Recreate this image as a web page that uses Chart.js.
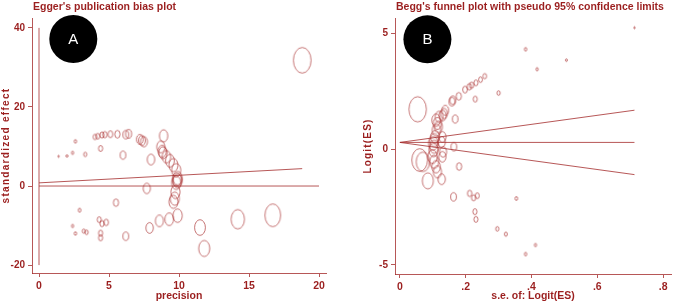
<!DOCTYPE html>
<html><head><meta charset="utf-8">
<script src="https://cdn.jsdelivr.net/npm/chart.js@4"></script>
<style>
html,body{margin:0;padding:0;background:#fff;width:676px;height:303px;overflow:hidden}
.box{position:absolute;top:0;width:338px;height:303px}
#b1{left:0}
#b2{left:338px}
</style></head><body>
<div class="box" id="b1"><canvas id="c1" width="338" height="303"></canvas></div>
<div class="box" id="b2"><canvas id="c2" width="338" height="303"></canvas></div>
<script>
// ---------- Panel A: Egger's publication bias plot ----------
const eggerPrecision = [18.8,16.7,14.2,11.8,11.5,1.4,2.0,2.4,2.6,3.3,4.4,4.0,4.2,4.5,4.7,5.1,5.6,6.2,6.4,7.2,7.35,7.5,8.9,6.0,8.0,8.7,8.8,8.85,9.1,9.35,9.6,9.8,9.85,9.9,9.8,9.9,9.75,9.7,9.6,7.7,5.5,2.9,2.4,2.6,3.2,3.4,4.3,4.5,4.8,4.4,4.4,6.2,7.9,8.6,9.3,9.9];
const eggerStdEffect = [31.8,-7.4,-8.4,-15.8,-10.5,7.5,7.6,8.4,11.3,8.0,9.5,12.4,12.6,12.9,13.0,13.1,13.1,13.0,13.2,11.8,11.5,11.2,12.7,7.8,6.7,9.9,8.8,8.4,7.4,6.4,5.3,4.0,1.6,1.3,0.8,2.0,-1.5,-3.2,-4.0,-0.6,-4.2,-6.1,-10.1,-12.0,-11.4,-11.7,-8.5,-9.5,-9.2,-11.9,-13.1,-12.7,-10.6,-8.8,-8.4,-7.5];
const eggerRegX = [0, 18.8];
const eggerRegY = [0.8, 4.4];
const eggerZeroX = [0, 20];
const eggerInterceptAxisY = [-20, 40];
const eggerXTicks = [0, 5, 10, 15, 20];
const eggerYTicks = [-20, 0, 20, 40];

// ---------- Panel B: Begg's funnel plot ----------
const beggSE = [0.713,0.382,0.417,0.506,0.30,0.229,0.258,0.245,0.231,0.218,0.211,0.198,0.179,0.161,0.158,0.054,0.168,0.138,0.134,0.13,0.119,0.114,0.117,0.111,0.107,0.104,0.101,0.104,0.102,0.129,0.127,0.131,0.129,0.099,0.104,0.11,0.114,0.06,0.07,0.085,0.127,0.18,0.163,0.212,0.224,0.235,0.228,0.231,0.296,0.322,0.354,0.382,0.412,0.164,0.11];
const beggLogit = [5.24,4.31,3.45,3.84,2.42,2.16,3.15,3.0,2.86,2.76,2.69,2.57,2.28,2.11,2.05,1.72,1.3,1.68,1.54,1.45,1.39,1.11,0.96,0.82,0.53,0.39,0.25,0.10,-0.04,0.53,0.31,-0.12,-0.33,-0.33,-0.55,-0.76,-0.98,-0.47,-0.55,-1.37,-1.3,-0.75,-2.06,-1.91,-2.1,-2.01,-2.7,-3.03,-3.44,-3.67,-2.13,-4.53,-4.14,0.1,1.25];
const beggLimitX = [0, 0.713];
const beggPooledY = [0.29, 0.29];
const beggUpperY = [0.29, 1.68];
const beggLowerY = [0.29, -1.10];
const beggXTicks = [0, 0.2, 0.4, 0.6, 0.8];
const beggXTickLabels = ['0', '.2', '.4', '.6', '.8'];
const beggYTicks = [-5, 0, 5];

// ---------- styling ----------
const TEXT = '#9b1f1f';
const LINE = 'rgba(165,45,45,0.8)';
const NARROW = '"Liberation Sans Narrow", "Arial Narrow", "Liberation Sans", Arial, sans-serif';
const SANS = '"Liberation Sans", Arial, sans-serif';
const ASPECT = 1.45;
const markerCache = {};
function ellipseMarker(rx) {
  rx = Math.max(rx, 0.7);
  const key = rx.toFixed(2);
  if (markerCache[key]) return markerCache[key];
  const ry = rx * ASPECT;
  const c = document.createElement('canvas');
  c.width = Math.ceil(2 * rx + 3);
  c.height = Math.ceil(2 * ry + 3);
  const g = c.getContext('2d');
  g.strokeStyle = 'rgba(170,50,50,0.85)';
  g.lineWidth = 0.8;
  g.beginPath();
  g.ellipse(c.width / 2, c.height / 2, rx, ry, 0, 0, Math.PI * 2);
  g.stroke();
  markerCache[key] = c;
  return c;
}

const zip = (xs, ys) => xs.map((x, i) => ({x, y: ys[i]}));
const lineDs = (data) => ({type: 'scatter', data, showLine: true, pointRadius: 0, borderColor: LINE, borderWidth: 1, fill: false});

const deco = {
  id: 'deco',
  afterDraw(chart, args, o) {
    const {ctx, chartArea: a, scales} = chart;
    ctx.save();
    ctx.fillStyle = TEXT;
    ctx.font = 'bold 10.5px ' + NARROW;
    ctx.textAlign = 'left';
    ctx.textBaseline = 'alphabetic';
    ctx.fillText(o.title, a.left + 1, 10);
    ctx.textAlign = 'center';
    ctx.textBaseline = 'middle';
    ctx.fillText(o.xTitle, (a.left + a.right) / 2, 296);
    ctx.save();
    ctx.translate(o.yTitleX, (a.top + a.bottom) / 2);
    ctx.rotate(-Math.PI / 2);
    ctx.font = 'bold 10px ' + SANS;
    ctx.letterSpacing = o.spacing;
    ctx.fillText(o.yTitle, 0, 0);
    ctx.restore();
    const bx = scales.x.getPixelForValue(o.badge.x), by = scales.y.getPixelForValue(o.badge.y);
    ctx.fillStyle = '#000';
    ctx.beginPath(); ctx.arc(bx, by, 24, 0, Math.PI * 2); ctx.fill();
    ctx.fillStyle = '#fff';
    ctx.font = '15px ' + SANS;
    ctx.fillText(o.badge.label, bx, by + 1);
    ctx.restore();
  }
};

function axis(min, max, ticks, labels, fit, isX) {
  return {
    type: 'linear', min, max,
    afterBuildTicks: s => { s.ticks = ticks.map(v => ({value: v})); },
    afterFit: s => { if (isX) s.height = fit; else s.width = fit; },
    grid: {display: true, drawOnChartArea: false, drawTicks: true, tickLength: 4, color: LINE, lineWidth: 1},
    border: {display: true, color: LINE, width: 1},
    ticks: {
      autoSkip: false, maxRotation: 0, padding: 3, color: TEXT,
      font: isX ? {family: NARROW, size: 10.5, weight: 'bold'} : {family: SANS, size: 10, weight: 'bold'},
      callback: (v) => { const i = ticks.indexOf(v); return labels ? labels[i] : String(v); }
    }
  };
}

Chart.defaults.animation = false;

new Chart(document.getElementById('c1'), {
  type: 'scatter',
  data: {datasets: [
    lineDs(zip([0, 0], eggerInterceptAxisY)),
    lineDs(zip(eggerZeroX, [0, 0])),
    lineDs(zip(eggerRegX, eggerRegY)),
    {type: 'scatter', data: zip(eggerPrecision, eggerStdEffect), pointRadius: 3,
     pointStyle: c => ellipseMarker(0.47 * c.raw.x), showLine: false}
  ]},
  options: {
    responsive: false, devicePixelRatio: 1, events: [],
    layout: {padding: {top: 18, right: 12, bottom: 0, left: 0}},
    scales: {
      x: axis(-0.5, 20.5, eggerXTicks, null, 30, true),
      y: axis(-22, 42.5, eggerYTicks, null, 32, false)
    },
    plugins: {legend: {display: false}, tooltip: {enabled: false},
      deco: {title: "Egger's publication bias plot", xTitle: 'precision', yTitle: 'standardized effect',
             yTitleX: 6, spacing: '1.3px', badge: {x: 2.45, y: 37.2, label: 'A'}}}
  },
  plugins: [deco]
});

new Chart(document.getElementById('c2'), {
  type: 'scatter',
  data: {datasets: [
    lineDs(zip(beggLimitX, beggPooledY)),
    lineDs(zip(beggLimitX, beggUpperY)),
    lineDs(zip(beggLimitX, beggLowerY)),
    {type: 'scatter', data: zip(beggSE, beggLogit), pointRadius: 3,
     pointStyle: c => ellipseMarker(0.47 / c.raw.x), showLine: false}
  ]},
  options: {
    responsive: false, devicePixelRatio: 1, events: [],
    layout: {padding: {top: 18, right: 0, bottom: 0, left: 0}},
    scales: {
      x: axis(-0.0149, 0.824, beggXTicks, beggXTickLabels, 29, true),
      y: axis(-5.39, 5.66, beggYTicks, null, 57, false)
    },
    plugins: {legend: {display: false}, tooltip: {enabled: false},
      deco: {title: "Begg's funnel plot with pseudo 95% confidence limits", xTitle: 's.e. of: Logit(ES)', yTitle: 'Logit(ES)',
             yTitleX: 30, spacing: '1.2px', badge: {x: 0.0836, y: 4.74, label: 'B'}}}
  },
  plugins: [deco]
});
</script>
</body></html>
